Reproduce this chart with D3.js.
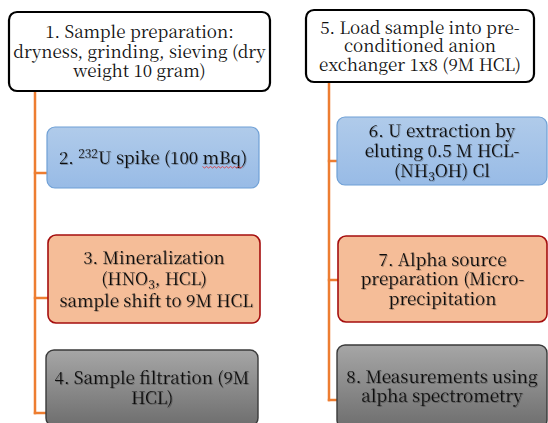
<!DOCTYPE html>
<html><head><meta charset="utf-8">
<script src="https://cdn.jsdelivr.net/npm/d3@7"></script>
<style>html,body{margin:0;padding:0;background:#fff;}svg{display:block;}</style>
</head><body>
<svg id="c" width="548" height="423"></svg>
<script>
// ---- data ----
const stepIds = [1,2,3,4,5,6,7,8];
const stepColumn = [0,0,0,0,1,1,1,1];
const stepStyle = ["head","blue","orange","gray","head","blue","orange","gray"];
// each line is a list of [text, kind] segments (kind: n normal, sup, sub)
const stepLines = [
  [[["1. Sample preparation:","n"]],[["dryness, grinding, sieving (dry","n"]],[["weight 10 gram)","n"]]],
  [[["2. ","n"],["232","sup"],["U spike (100 ","n"],["mBq","n"],[")","n"]]],
  [[["3. Mineralization","n"]],[["(HNO","n"],["3","sub"],[", HCL)","n"]],[["\u00a0sample shift to 9M HCL","n"]]],
  [[["4. Sample filtration (9M","n"]],[["HCL)","n"]]],
  [[["5. Load sample into pre-","n"]],[["conditioned anion","n"]],[["exchanger 1x8 (9M HCL)","n"]]],
  [[["6. U extraction by","n"]],[["eluting 0.5 M HCL-","n"]],[["(NH","n"],["3","sub"],["OH) Cl","n"]]],
  [[["7. Alpha source","n"]],[["preparation (Micro-","n"]],[["precipitation","n"]]],
  [[["8. Measurements using","n"]],[["alpha spectrometry","n"]]]
];

// ---- layout (geometry kept separate) ----
const boxes = [
  {x0:9,  x1:270, y0:12,  y1:91,  conn:null},
  {x0:47, x1:259, y0:127, y1:188, conn:173},
  {x0:48, x1:260, y0:235, y1:323, conn:298},
  {x0:46, x1:258, y0:350, y1:426, conn:413},
  {x0:306,x1:534, y0:10,  y1:82,  conn:null},
  {x0:337,x1:547, y0:117, y1:185, conn:161},
  {x0:338,x1:547, y0:236, y1:322, conn:280},
  {x0:337,x1:547, y0:345, y1:428, conn:400}
];
const spineX = [35, 329];
const lineH = {1:19.5,2:19.5,3:21.5,4:19.5,5:18.5,6:20,7:19.5,8:19.5};

const styles = {
  head:  {fill:"#ffffff", stroke:"#000000", sw:2.2},
  blue:  {fill:"url(#gBlue)", stroke:"#6fa0d6", sw:1.2},
  orange:{fill:"#f5bd98", stroke:"#a50e0e", sw:1.6},
  gray:  {fill:"url(#gGray)", stroke:"#3a3a3a", sw:1.4}
};

const svg = d3.select("#c");
const defs = svg.append("defs");
const gb = defs.append("linearGradient").attr("id","gBlue").attr("x1",0).attr("y1",0).attr("x2",0).attr("y2",1);
gb.append("stop").attr("offset","0%").attr("stop-color","#b0cbea");
gb.append("stop").attr("offset","100%").attr("stop-color","#98bbe6");
const gg = defs.append("linearGradient").attr("id","gGray").attr("x1",0).attr("y1",0).attr("x2",0).attr("y2",1);
gg.append("stop").attr("offset","0%").attr("stop-color","#a6a6a6");
gg.append("stop").attr("offset","100%").attr("stop-color","#6e6e6e");
const f = defs.append("filter").attr("id","ts").attr("x","-10%").attr("y","-20%").attr("width","130%").attr("height","150%");
f.append("feDropShadow").attr("dx",0.8).attr("dy",0.8).attr("stdDeviation",0.6).attr("flood-color","#000").attr("flood-opacity",0.35);

const data = stepIds.map((id,i)=>({id, col:stepColumn[i], style:stepStyle[i], lines:stepLines[i], b:boxes[i]}));

// connectors
const orange = "#ed7d31";
[0,1].forEach(col=>{
  const items = data.filter(d=>d.col===col);
  const head = items[0];
  const last = items[items.length-1];
  svg.append("line").attr("x1",spineX[col]).attr("x2",spineX[col])
    .attr("y1",head.b.y1).attr("y2",last.b.conn+1.2)
    .attr("stroke",orange).attr("stroke-width",2.5);
  items.slice(1).forEach(d=>{
    svg.append("line").attr("x1",spineX[col]-1.2).attr("x2",d.b.x0)
      .attr("y1",d.b.conn).attr("y2",d.b.conn)
      .attr("stroke",orange).attr("stroke-width",2.5);
  });
});

// boxes
const g = svg.selectAll("g.step").data(data).join("g").attr("class","step");
g.append("rect")
  .attr("x",d=>d.b.x0).attr("y",d=>d.b.y0)
  .attr("width",d=>d.b.x1-d.b.x0).attr("height",d=>d.b.y1-d.b.y0)
  .attr("rx",8).attr("ry",8)
  .attr("fill",d=>styles[d.style].fill)
  .attr("stroke",d=>styles[d.style].stroke)
  .attr("stroke-width",d=>styles[d.style].sw);

g.each(function(d){
  const n = d.lines.length, lh = lineH[d.id];
  const cx = (d.b.x0+d.b.x1)/2, cy = (d.b.y0+d.b.y1)/2;
  const t = d3.select(this).append("text")
    .attr("text-anchor","middle")
    .style("font-family","'Noto Serif CJK SC'")
    .attr("font-size",17)
    .attr("fill","#111")
    .attr("filter", d.style==="head" ? null : "url(#ts)");
  d.lines.forEach((segs,li)=>{
    const y = cy + (li-(n-1)/2)*lh + 6;
    const line = t.append("tspan").attr("x",cx).attr("y",y);
    let prev = "n";
    segs.forEach(([s,k])=>{
      const sp = line.append("tspan").text(s);
      if(k==="sup") sp.attr("font-size",12).attr("dy",-6);
      if(k==="sub") sp.attr("font-size",12).attr("dy",4);
      if(k==="n" && prev==="sup") sp.attr("dy",6);
      if(k==="n" && prev==="sub") sp.attr("dy",-4);
      prev = k;
    });
  });
});

// spell-check squiggle under "mBq"
const mb = g.filter(d=>d.id===2).select("text").selectAll("tspan tspan").filter(function(){return this.textContent==="mBq";});
if(!mb.empty()){
  const node = mb.node();
  const n0 = node.getStartPositionOfChar(0), n1 = node.getEndPositionOfChar(2);
  const y = n0.y + 3;
  let p = "M"+n0.x+","+y;
  for(let x=n0.x, i=0; x<n1.x; x+=2, i++) p += " L"+(x+2)+","+(y+(i%2?0:1.5));
  svg.append("path").attr("d",p).attr("fill","none").attr("stroke","#e03030").attr("stroke-width",0.8);
}
</script>
</body></html>
